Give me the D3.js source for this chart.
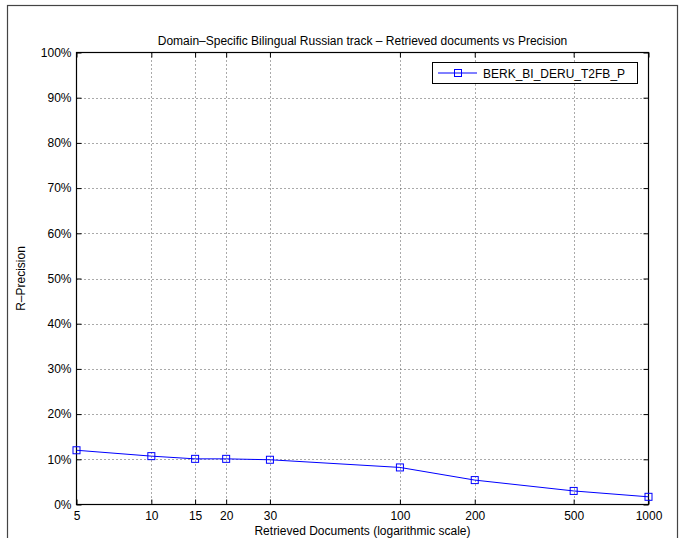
<!DOCTYPE html>
<html>
<head>
<meta charset="utf-8">
<script src="https://cdn.jsdelivr.net/npm/d3@7"></script>
<style>
  body { margin: 0; background: #fff; }
  text { font-family: "Liberation Sans", Arial, sans-serif; fill: #000; }
</style>
</head>
<body>
<div id="chart"></div>
<script>
///data
var docs = [5, 10, 15, 20, 30, 100, 200, 500, 1000];
var precision = [12.0, 10.7, 10.1, 10.1, 9.9, 8.2, 5.4, 3.0, 1.7];
var xTickValues = [5, 10, 15, 20, 30, 100, 200, 500, 1000];
var yTickValues = [0, 10, 20, 30, 40, 50, 60, 70, 80, 90, 100];
var seriesName = "BERK_BI_DERU_T2FB_P";
var titleText = "Domain\u2013Specific Bilingual Russian track \u2013 Retrieved documents vs Precision";

///layout
var width = 683, height = 538;
var plot = { left: 76.5, right: 648.5, top: 52.5, bottom: 504.5 };

var svg = d3.select('#chart').append('svg')
    .attr('width', width)
    .attr('height', height);

// outer figure frame
svg.append('rect')
    .attr('x', 7.5).attr('y', 5.5)
    .attr('width', 670).attr('height', 560)
    .attr('fill', 'none')
    .attr('stroke', '#444')
    .attr('stroke-width', 1.2);

var x = d3.scaleLog()
    .domain([5, 1000])
    .range([plot.left, plot.right]);

var y = d3.scaleLinear()
    .domain([0, 100])
    .range([plot.bottom, plot.top]);

///grid (dotted)
var grid = svg.append('g').attr('class', 'grid');
grid.selectAll('line.vg')
    .data(xTickValues.filter(d => d !== 5 && d !== 1000))
    .enter().append('line')
    .attr('x1', d => Math.round(x(d)) + 0.5).attr('x2', d => Math.round(x(d)) + 0.5)
    .attr('y1', plot.top).attr('y2', plot.bottom)
    .attr('stroke', '#555').attr('stroke-width', 1)
    .attr('stroke-dasharray', '1,3');

grid.selectAll('line.hg')
    .data(yTickValues.filter(d => d !== 0 && d !== 100))
    .enter().append('line')
    .attr('y1', d => Math.round(y(d)) + 0.5).attr('y2', d => Math.round(y(d)) + 0.5)
    .attr('x1', plot.left).attr('x2', plot.right)
    .attr('stroke', '#555').attr('stroke-width', 1)
    .attr('stroke-dasharray', '1,3');

///axes (ticks pointing inward, mirrored on top/right)
var tickLen = 5;
var xAxis = d3.axisBottom(x).tickValues(xTickValues).tickFormat(d3.format('d'))
    .tickSizeInner(-tickLen).tickSizeOuter(0).tickPadding(7);
var xAxisTop = d3.axisTop(x).tickValues(xTickValues).tickFormat('')
    .tickSizeInner(-tickLen).tickSizeOuter(0);
var yAxis = d3.axisLeft(y).tickValues(yTickValues).tickFormat(d => d + '%')
    .tickSizeInner(-tickLen).tickSizeOuter(0).tickPadding(5);
var yAxisRight = d3.axisRight(y).tickValues(yTickValues).tickFormat('')
    .tickSizeInner(-tickLen).tickSizeOuter(0);

function styleAxis(g) {
    g.select('.domain').remove();
    g.selectAll('line').attr('stroke', '#000');
    g.selectAll('text').style('font-size', '12px')
        .style('font-family', '"Liberation Sans", Arial, sans-serif');
}

svg.append('g').attr('transform', `translate(0,${plot.bottom})`).call(xAxis).call(styleAxis);
svg.append('g').attr('transform', `translate(0,${plot.top})`).call(xAxisTop).call(styleAxis);
svg.append('g').attr('transform', `translate(${plot.left},0)`).call(yAxis).call(styleAxis);
svg.append('g').attr('transform', `translate(${plot.right},0)`).call(yAxisRight).call(styleAxis);

// axes box
svg.append('rect')
    .attr('x', plot.left).attr('y', plot.top)
    .attr('width', plot.right - plot.left).attr('height', plot.bottom - plot.top)
    .attr('fill', 'none').attr('stroke', '#000').attr('stroke-width', 1.2);

///series
var points = docs.map((d, i) => ({ x: d, y: precision[i] }));

svg.append('path')
    .datum(points)
    .attr('fill', 'none')
    .attr('stroke', '#0000ff')
    .attr('stroke-width', 1)
    .attr('d', d3.line().x(d => x(d.x)).y(d => y(d.y)));

var ms = 7;
svg.selectAll('rect.marker')
    .data(points)
    .enter().append('rect')
    .attr('class', 'marker')
    .attr('x', d => x(d.x) - ms / 2).attr('y', d => y(d.y) - ms / 2)
    .attr('width', ms).attr('height', ms)
    .attr('fill', 'none').attr('stroke', '#0000ff').attr('stroke-width', 1);

///labels
svg.append('text')
    .attr('x', (plot.left + plot.right) / 2).attr('y', 45)
    .attr('text-anchor', 'middle')
    .style('font-size', '12px')
    .text(titleText);

svg.append('text')
    .attr('x', (plot.left + plot.right) / 2).attr('y', 535)
    .attr('text-anchor', 'middle')
    .style('font-size', '12px')
    .text('Retrieved Documents (logarithmic scale)');

svg.append('text')
    .attr('transform', `translate(25,${(plot.top + plot.bottom) / 2}) rotate(-90)`)
    .attr('text-anchor', 'middle')
    .style('font-size', '12px')
    .text('R\u2013Precision');

///legend
var legend = svg.append('g');
legend.append('rect')
    .attr('x', 432.5).attr('y', 62.5)
    .attr('width', 205).attr('height', 21)
    .attr('fill', '#fff').attr('stroke', '#000').attr('stroke-width', 1);
legend.append('line')
    .attr('x1', 438).attr('x2', 477).attr('y1', 73).attr('y2', 73)
    .attr('stroke', '#0000ff').attr('stroke-width', 1);
legend.append('rect')
    .attr('x', 458 - ms / 2).attr('y', 73 - ms / 2)
    .attr('width', ms).attr('height', ms)
    .attr('fill', 'none').attr('stroke', '#0000ff');
legend.append('text')
    .attr('x', 483).attr('y', 77.5)
    .style('font-size', '12px')
    .text(seriesName);
</script>
</body>
</html>
